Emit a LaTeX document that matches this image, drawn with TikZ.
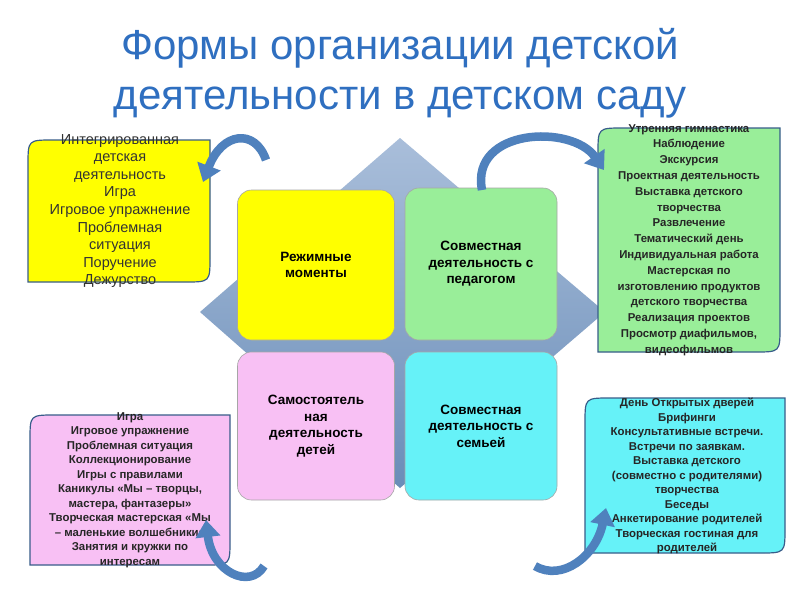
\documentclass[tikz,border=0pt]{standalone}
\usepackage{fontspec}
\setmainfont{Liberation Sans}
\usetikzlibrary{arrows.meta}
\definecolor{ttl}{HTML}{2F6FC0}
\definecolor{arr}{HTML}{4F81BD}
\definecolor{arrd}{HTML}{385D8A}
\definecolor{yel}{HTML}{FFFF00}
\definecolor{grn}{HTML}{99EE99}
\definecolor{pnk}{HTML}{F8C0F4}
\definecolor{cyn}{HTML}{66F2F8}
\definecolor{dtop}{HTML}{A9BEDA}
\definecolor{dbot}{HTML}{6A8DB8}
\tikzset{
  sq/.style={draw=gray!70,line width=0.6pt,rounded corners=14pt},
  sqtext/.style={font=\fontsize{13.5}{16.5}\selectfont\bfseries,align=center,text=black},
  side/.style={draw=arrd,line width=1.2pt},
  smalltext/.style={font=\fontsize{11.4}{14.5}\selectfont\bfseries,align=center,text=black!85},
  curv/.style={draw=arr,line width=8.5pt,-{Triangle[length=17pt,width=24pt]}}
}
\begin{document}
\begin{tikzpicture}[x=1pt,y=-1pt]
\useasboundingbox (0,0) rectangle (800,600);
\fill[white] (0,0) rectangle (800,600);
% title
\node[text=ttl,font=\fontsize{42}{50}\selectfont] (t1) at (400,48) {Формы организации детской};
\node[text=ttl,font=\fontsize{42}{50}\selectfont] (t2) at (400,103) {деятельности в детском саду};
% diamond
\shade[top color=dtop,bottom color=dbot] (400,138) -- (605,312) -- (400,488) -- (200,312) -- cycle;
% squares
\node[sq,fill=yel,minimum width=157pt,minimum height=150pt,sqtext] (s1) at (316,265) {Режимные\\моменты};
\node[sq,fill=grn,minimum width=152pt,minimum height=152pt,sqtext] (s2) at (481,264) {Совместная\\деятельность с\\педагогом};
\node[sq,fill=pnk,minimum width=157pt,minimum height=148pt,sqtext] (s3) at (316,426) {Самостоятель\\ная\\деятельность\\детей};
\node[sq,fill=cyn,minimum width=152pt,minimum height=148pt,sqtext] (s4) at (481,426) {Совместная\\деятельность с\\семьей};
% side boxes
\path[side,fill=yel] (28,165) .. controls (28,140) .. (53,140) -- (210,140) -- (210,257) .. controls (210,282) .. (185,282) -- (28,282) -- cycle;
\path[side,fill=grn] (598,153) .. controls (598,128) .. (623,128) -- (780,128) -- (780,327) .. controls (780,352) .. (755,352) -- (598,352) -- cycle;
\path[side,fill=pnk] (30,440) .. controls (30,415) .. (55,415) -- (230,415) -- (230,540) .. controls (230,565) .. (205,565) -- (30,565) -- cycle;
\path[side,fill=cyn] (585,423) .. controls (585,398) .. (610,398) -- (785,398) -- (785,528) .. controls (785,553) .. (760,553) -- (585,553) -- cycle;
\node[font=\fontsize{14.5}{17.6}\selectfont,align=center,text=black!80] (b1) at (120,211) {Интегрированная\\детская\\деятельность\\Игра\\Игровое упражнение\\Проблемная\\ситуация\\Поручение\\Дежурство};
\node[smalltext,font=\fontsize{11.4}{15.8}\selectfont\bfseries] (b2) at (689,240) {Утренняя гимнастика\\Наблюдение\\Экскурсия\\Проектная деятельность\\Выставка детского\\творчества\\Развлечение\\Тематический день\\Индивидуальная работа\\Мастерская по\\изготовлению продуктов\\детского творчества\\Реализация проектов\\Просмотр диафильмов,\\видеофильмов};
\node[smalltext] (b3) at (130,490) {Игра\\Игровое упражнение\\Проблемная ситуация\\Коллекционирование\\Игры с правилами\\Каникулы «Мы – творцы,\\мастера, фантазеры»\\Творческая мастерская «Мы\\– маленькие волшебники»\\Занятия и кружки по\\интересам};
\node[smalltext] (b4) at (687,476) {День Открытых дверей\\Брифинги\\Консультативные встречи.\\Встречи по заявкам.\\Выставка детского\\(совместно с родителями)\\творчества\\Беседы\\Анкетирование родителей\\Творческая гостиная для\\родителей};
% arrows
\coordinate (a1s) at (266,160); \coordinate (a1e) at (203,182);
\coordinate (a2s) at (482,190); \coordinate (a2e) at (604,170);
\coordinate (a3s) at (264,566); \coordinate (a3e) at (206,520);
\coordinate (a4s) at (535,566); \coordinate (a4e) at (606,508);
\draw[curv] (a1s) .. controls (255,128) and (222,132) .. (a1e);
\draw[curv] (a2s) .. controls (470,128) and (572,124) .. (a2e);
\draw[curv] (a3s) .. controls (250,590) and (212,572) .. (a3e);
\draw[curv] (a4s) .. controls (562,582) and (596,556) .. (a4e);
\end{tikzpicture}
\end{document}
